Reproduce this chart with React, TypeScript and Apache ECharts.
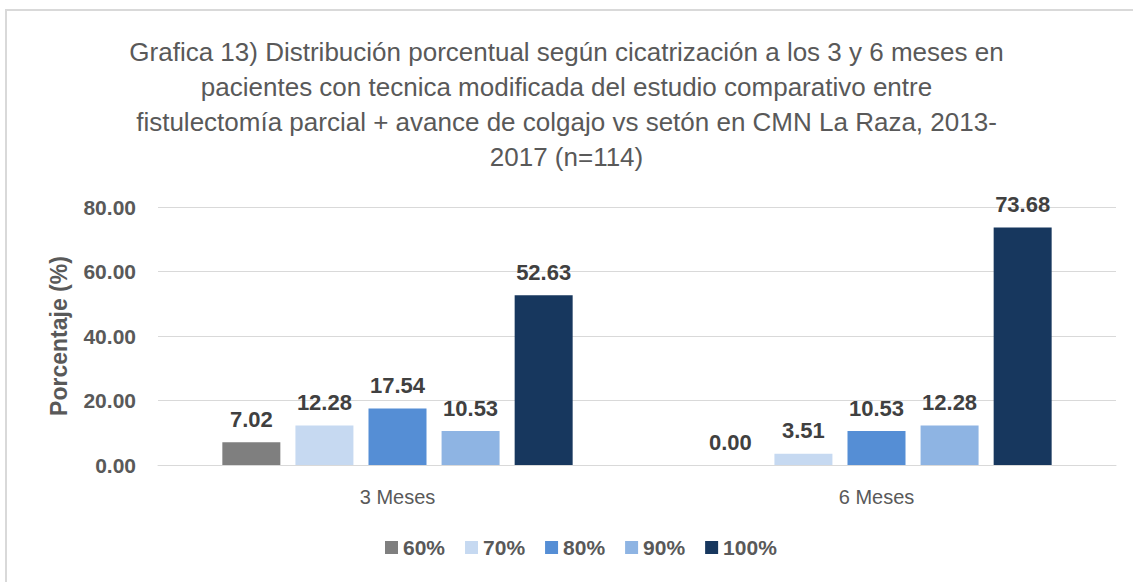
import React, { useEffect, useRef } from "react";
import * as echarts from "echarts";

const categories = ["3 Meses", "6 Meses"];
const seriesNames = ["60%", "70%", "80%", "90%", "100%"];
const values60 = [7.02, 0.0];
const values70 = [12.28, 3.51];
const values80 = [17.54, 10.53];
const values90 = [10.53, 12.28];
const values100 = [52.63, 73.68];
const colors = ["#7f7f7f", "#c6d9f1", "#558ed5", "#8eb4e3", "#17375e"];
const titleLines = [
  "Grafica 13) Distribución porcentual según cicatrización a los 3 y 6 meses en",
  "pacientes con tecnica modificada del estudio comparativo entre",
  "fistulectomía parcial + avance de colgajo vs setón en CMN La Raza, 2013-",
  "2017 (n=114)",
];
const yAxisName = "Porcentaje (%)";

export default function App() {
  const ref = useRef<HTMLDivElement>(null);
  useEffect(() => {
    if (!ref.current) return;
    const chart = echarts.init(ref.current, undefined, { renderer: "svg" });
    const allValues = [values60, values70, values80, values90, values100];
    const font = "'Liberation Sans Narrow', 'Liberation Sans', sans-serif";
    chart.setOption({
      animation: false,
      backgroundColor: "#ffffff",
      textStyle: { fontFamily: font },
      title: {
        text: titleLines.join("\n"),
        left: "center",
        top: 29,
        textStyle: {
          fontFamily: font,
          fontSize: 26,
          fontWeight: "normal",
          color: "#595959",
          lineHeight: 35,
        },
      },
      graphic: [
        { type: "line", shape: { x1: 5, y1: 10, x2: 1133, y2: 10 }, style: { stroke: "#d9d9d9", lineWidth: 2 } },
        { type: "line", shape: { x1: 6, y1: 10, x2: 6, y2: 582 }, style: { stroke: "#d9d9d9", lineWidth: 2 } },
      ],
      legend: {
        data: seriesNames,
        bottom: 19,
        left: 380,
        itemWidth: 13,
        itemHeight: 13,
        itemGap: 20,
        icon: "rect",
        textStyle: { fontFamily: font, fontSize: 21, fontWeight: "bold", color: "#595959" },
      },
      grid: { left: 158, right: 17, top: 207, bottom: 117, containLabel: false },
      xAxis: {
        type: "category",
        data: categories,
        axisLine: { lineStyle: { color: "#d9d9d9", width: 1 } },
        axisTick: { show: false },
        axisLabel: { fontFamily: font, fontSize: 20, color: "#595959", margin: 22 },
      },
      yAxis: {
        type: "value",
        min: 0,
        max: 80,
        interval: 20,
        name: yAxisName,
        nameLocation: "middle",
        nameGap: 88,
        nameTextStyle: { fontFamily: font, fontSize: 23, fontWeight: "bold", color: "#595959" },
        axisLine: { show: false },
        axisTick: { show: false },
        splitLine: { lineStyle: { color: "#d9d9d9", width: 1 } },
        axisLabel: {
          fontFamily: font,
          fontSize: 21,
          fontWeight: "bold",
          color: "#595959",
          margin: 22,
          formatter: (v: number) => v.toFixed(2),
        },
      },
      series: seriesNames.map((name, i) => ({
        name,
        type: "bar",
        data: allValues[i],
        barWidth: 58,
        barGap: "26%",
        itemStyle: { color: colors[i] },
        label: {
          show: true,
          position: "top",
          distance: 12,
          fontFamily: font,
          fontSize: 22,
          fontWeight: "bold",
          color: "#404040",
          formatter: (p: any) => Number(p.value).toFixed(2),
        },
      })),
    });
    return () => chart.dispose();
  }, []);
  return (
    <div
      ref={ref}
      style={{ position: "absolute", left: 0, top: 0, width: 1133, height: 582, background: "#fff" }}
    />
  );
}
